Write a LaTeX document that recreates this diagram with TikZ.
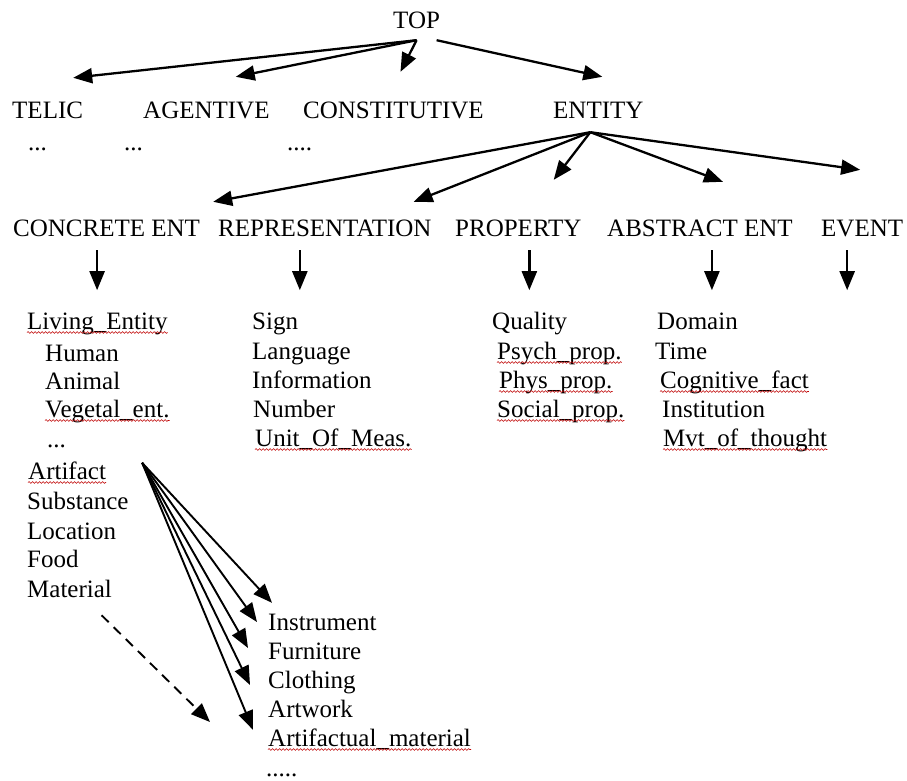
\documentclass[tikz,border=0pt]{standalone}
\usepackage{fontspec}
\setmainfont{Liberation Serif}
\usetikzlibrary{arrows.meta,decorations.pathmorphing}

\newcommand{\spellmark}[1]{\draw[spell] ([yshift=-3.5pt]#1.base west) -- ([yshift=-3.5pt]#1.base east);}

\begin{document}
\begin{tikzpicture}[x=1pt,y=-1pt,
  every node/.style={font=\fontsize{25}{29}\selectfont,inner sep=0pt,anchor=base west,text height=17pt,text depth=5pt},
  arr/.style={-{Triangle[length=19pt,width=15pt]},line width=2.3pt},
  fanarr/.style={-{Triangle[length=19pt,width=15pt]},line width=1.9pt},
  spell/.style={draw=red!75!black,line width=0.6pt,decorate,decoration={snake,amplitude=0.9pt,segment length=3.5pt}}]
\useasboundingbox (0,0) rectangle (907,780);
% first level
\node (top) at (393,28) {TOP};
\node (telic) at (12,118) {TELIC};
\node (agent) at (143,118) {AGENTIVE};
\node (constit) at (303,118) {CONSTITUTIVE};
\node (entity) at (553,118) {ENTITY};
\node (telicdots) at (28,150) {...};
\node (agentdots) at (124,150) {...};
\node (constdots) at (287,150) {....};
\draw[arr] ([yshift=-7pt]top.south) -- ([shift={(-10,-23)}]telic.north east);
\draw[arr] ([yshift=-7pt]top.south) -- ([shift={(-34,-24)}]agent.north east);
\draw[arr] ([yshift=-7pt]top.south) -- ([shift={(7,-29)}]constit.north);
\draw[arr] ([shift={(20,7)}]top.south) -- ([shift={(4,-24)}]entity.north);
% second level
\node (concrete) at (13,236) {CONCRETE ENT};
\node (repr) at (218,236) {REPRESENTATION};
\node (prop) at (455,236) {PROPERTY};
\node (abst) at (607,236) {ABSTRACT ENT};
\node (event) at (821,236) {EVENT};
\draw[arr] ([shift={(-8,9)}]entity.south) -- ([shift={(13,-17)}]concrete.north east);
\draw[arr] ([shift={(-8,9)}]entity.south) -- ([shift={(-18,-17)}]repr.north east);
\draw[arr] ([shift={(-8,9)}]entity.south) -- ([shift={(-28,-39)}]prop.north east);
\draw[arr] ([shift={(-8,9)}]entity.south) -- ([shift={(23,-37)}]abst.north);
\draw[arr] ([shift={(-8,9)}]entity.south) -- ([shift={(-2,-49)}]event.north);
\draw[arr] ([shift={(-9.5,9)}]concrete.south) -- ++(0,40);
\draw[arr] ([shift={(-25,9)}]repr.south) -- ++(0,40);
\draw[arr] ([shift={(11,9)}]prop.south) -- ++(0,40);
\draw[arr] ([shift={(12,9)}]abst.south) -- ++(0,40);
\draw[arr] ([shift={(-15,9)}]event.south) -- ++(0,40);
% lists
\node (living) at (27,329) {Living\_Entity};
\node (human) at (45,361) {Human};
\node (animal) at (45,389) {Animal};
\node (veg) at (45,417) {Vegetal\_ent.};
\node (livdots) at (47,447) {...};
\node (artifact) at (28,479) {Artifact};
\node (substance) at (27,509) {Substance};
\node (location) at (27,539) {Location};
\node (food) at (27,567) {Food};
\node (material) at (27,597) {Material};
\node (sign) at (252,329) {Sign};
\node (lang) at (252,359) {Language};
\node (info) at (252,388) {Information};
\node (numb) at (253,417) {Number};
\node (unit) at (255,446) {Unit\_Of\_Meas.};
\node (quality) at (492,329) {Quality};
\node (psych) at (497,359) {Psych\_prop.};
\node (phys) at (499,388) {Phys\_prop.};
\node (social) at (497,417) {Social\_prop.};
\node (domain) at (657,329) {Domain};
\node (time) at (655,359) {Time};
\node (cogn) at (660,388) {Cognitive\_fact};
\node (instit) at (662,417) {Institution};
\node (mvt) at (663,446) {Mvt\_of\_thought};
% artifacts
\node (instr) at (268,630) {Instrument};
\node (furn) at (268,659) {Furniture};
\node (cloth) at (268,688) {Clothing};
\node (artw) at (268,717) {Artwork};
\node (artmat) at (268,746) {Artifactual\_material};
\node (artdots) at (266,776) {.....};
\coordinate (fan) at ([shift={(36,1)}]artifact.north east);
\draw[fanarr] (fan) -- ([shift={(4,-10)}]instr.north west);
\draw[fanarr] (fan) -- ([shift={(-11,-2)}]instr.west);
\draw[fanarr] (fan) -- ([shift={(-20,-5)}]furn.west);
\draw[fanarr] (fan) -- ([shift={(-18,3)}]cloth.west);
\draw[fanarr] (fan) -- ([shift={(-15,1)}]artmat.north west);
\draw[fanarr,dash pattern=on 10pt off 7pt] ([shift={(32,13)}]material.south) -- ([shift={(-58,11)}]artw.west);
% spelling marks
\foreach \w in {living,veg,artifact,unit,psych,phys,social,cogn,mvt,artmat}
  {\spellmark{\w}}
\end{tikzpicture}
\end{document}
